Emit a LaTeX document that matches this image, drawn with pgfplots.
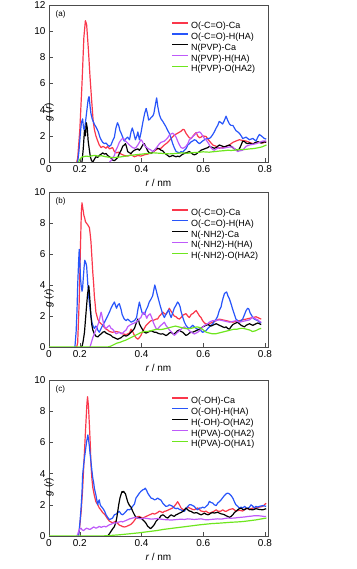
\documentclass[border=0pt]{standalone}
\usepackage{pgfplots}
\pgfplotsset{compat=1.18}
\usepackage{fontspec}
\setmainfont{Liberation Sans}
\definecolor{cred}{RGB}{250,55,75}
\definecolor{cblue}{RGB}{40,85,250}
\definecolor{cmag}{RGB}{190,90,250}
\definecolor{cgreen}{RGB}{110,230,30}
\pgfplotsset{
  gpanel/.style={
    scale only axis, width=219pt, anchor=south west,
    xmin=0.1, xmax=0.81, ymin=0,
    xtick={0.1,0.2,0.4,0.6,0.8}, xticklabels={0,0.2,0.4,0.6,0.8},
    /pgf/number format/assume math mode=true,
    tick label style={font=\fontsize{10}{12}\selectfont},
    label style={font=\fontsize{10}{12}\selectfont},
    axis line style={black!70, line width=0.8pt},
    tick style={black!70},
    tick pos=left,
    xlabel={\itshape r\upshape\ / nm},
    ylabel={\itshape g\upshape\ (\itshape r\upshape)},
    xlabel style={at={(rel axis cs:0.5,0)}, yshift=-21pt, anchor=center},
    ylabel style={at={(rel axis cs:0,0.5)}, xshift=-29pt, anchor=center},
    legend style={at={(rel axis cs:0.56,0.905)}, anchor=north west, draw=none, fill=none,
      font=\fontsize{9}{10.5}\selectfont, row sep=-1.2pt, inner sep=0pt},
    legend cell align=left,
    legend image code/.code={\draw[##1, line width=1.3pt] (0pt,3pt) -- (16pt,3pt);},
    every axis plot/.append style={line width=1.2pt, line join=round},
  }
}
\begin{document}
\begin{tikzpicture}
\useasboundingbox (0,0) rectangle (356pt,569pt);
% ---------------- (a)
\begin{axis}[gpanel, at={(49pt,407pt)}, height=157pt, ymax=12, ytick={0,2,4,6,8,10,12}]
\addplot[cred] coordinates {(0.190,0) (0.193,0.3) (0.200,2.5) (0.207,6.0) (0.213,9.5) (0.218,10.8) (0.222,10.5) (0.228,8.5) (0.233,6.5) (0.238,4.8) (0.243,3.2) (0.247,2.5) (0.252,2.0) (0.258,1.6) (0.263,1.3) (0.269,1.1) (0.275,1.2) (0.285,1.05) (0.290,1.2) (0.296,1.0) (0.306,1.1) (0.312,0.8) (0.319,0.7) (0.325,0.75) (0.334,0.6) (0.344,0.5) (0.355,0.45) (0.366,0.55) (0.377,0.4) (0.388,0.5) (0.398,0.45) (0.409,0.55) (0.420,0.6) (0.431,0.7) (0.442,0.85) (0.452,1.0) (0.463,1.05) (0.474,1.3) (0.485,1.5) (0.496,1.8) (0.506,2.05) (0.517,2.2) (0.528,2.35) (0.534,2.5) (0.539,2.45) (0.544,2.2) (0.550,2.0) (0.555,1.85) (0.561,1.8) (0.566,1.95) (0.571,2.1) (0.577,2.25) (0.582,2.0) (0.588,1.85) (0.593,1.9) (0.598,2.0) (0.609,1.95) (0.620,1.6) (0.631,1.3) (0.642,1.2) (0.652,1.05) (0.663,1.1) (0.674,1.2) (0.685,1.3) (0.696,1.5) (0.706,1.6) (0.717,1.7) (0.728,1.65) (0.739,1.6) (0.750,1.5) (0.761,1.4) (0.771,1.45) (0.782,1.5) (0.793,1.45) (0.804,1.55)};
\addlegendentry{O(-C=O)-Ca}
\addplot[cblue] coordinates {(0.193,0) (0.197,0.8) (0.201,2.0) (0.205,3.0) (0.209,3.3) (0.212,2.6) (0.215,2.4) (0.219,3.2) (0.223,4.0) (0.227,4.8) (0.230,5.0) (0.233,4.3) (0.236,3.7) (0.240,3.3) (0.245,3.0) (0.249,2.8) (0.252,2.7) (0.256,2.5) (0.260,2.3) (0.265,1.9) (0.269,1.7) (0.274,1.5) (0.280,1.4) (0.285,1.45) (0.290,1.3) (0.296,1.2) (0.301,1.3) (0.306,1.6) (0.312,1.9) (0.317,2.6) (0.322,3.0) (0.326,2.8) (0.330,2.4) (0.334,2.2) (0.339,1.9) (0.344,1.6) (0.350,1.8) (0.355,1.9) (0.361,1.7) (0.366,2.3) (0.370,2.6) (0.375,2.2) (0.380,1.7) (0.385,2.0) (0.388,2.3) (0.393,1.7) (0.398,2.2) (0.404,3.0) (0.410,3.7) (0.415,4.1) (0.420,3.6) (0.423,3.2) (0.428,3.3) (0.431,3.4) (0.436,3.5) (0.440,3.7) (0.445,4.4) (0.449,4.9) (0.453,4.2) (0.458,3.6) (0.463,3.3) (0.469,3.1) (0.474,2.9) (0.479,2.7) (0.485,2.4) (0.490,2.2) (0.496,1.8) (0.501,1.4) (0.506,1.1) (0.512,0.8) (0.517,0.75) (0.523,0.7) (0.528,0.8) (0.534,0.75) (0.539,0.9) (0.544,1.0) (0.550,1.3) (0.555,1.4) (0.561,1.55) (0.566,1.6) (0.571,1.7) (0.577,1.65) (0.582,1.5) (0.588,1.4) (0.593,1.5) (0.598,1.6) (0.604,1.7) (0.609,1.75) (0.615,1.8) (0.620,1.8) (0.625,1.9) (0.631,2.1) (0.636,2.3) (0.642,2.6) (0.647,2.8) (0.652,3.1) (0.658,3.0) (0.663,2.9) (0.669,3.2) (0.674,3.5) (0.679,3.2) (0.685,2.9) (0.690,2.8) (0.696,2.8) (0.701,2.6) (0.706,2.4) (0.712,2.3) (0.717,2.2) (0.723,2.0) (0.728,1.8) (0.734,1.85) (0.739,1.9) (0.744,1.8) (0.750,1.7) (0.755,1.75) (0.761,1.8) (0.766,1.7) (0.771,1.6) (0.777,1.9) (0.782,2.1) (0.788,2.0) (0.793,1.9) (0.798,1.8) (0.804,1.75)};
\addlegendentry{O(-C=O)-H(HA)}
\addplot[black] coordinates {(0.207,0) (0.211,1.0) (0.215,2.4) (0.218,2.0) (0.221,3.0) (0.224,2.6) (0.227,1.6) (0.231,0.9) (0.234,0.4) (0.238,0.1) (0.242,0.0) (0.247,0.2) (0.252,0.4) (0.258,0.35) (0.263,0.5) (0.269,0.6) (0.274,0.7) (0.280,0.6) (0.285,0.65) (0.290,0.5) (0.296,0.4) (0.301,0.3) (0.306,0.15) (0.312,0.1) (0.317,0.2) (0.323,0.35) (0.328,0.65) (0.334,0.9) (0.339,1.2) (0.344,1.3) (0.348,1.4) (0.352,1.1) (0.355,0.8) (0.361,0.7) (0.366,0.65) (0.371,0.8) (0.377,0.9) (0.382,0.95) (0.388,1.0) (0.393,0.9) (0.398,1.05) (0.404,1.3) (0.409,1.4) (0.415,1.1) (0.420,0.85) (0.425,0.7) (0.431,0.65) (0.436,0.75) (0.442,0.9) (0.447,1.0) (0.452,1.05) (0.458,1.0) (0.463,0.9) (0.469,0.85) (0.474,0.7) (0.479,0.6) (0.485,0.5) (0.490,0.4) (0.496,0.45) (0.501,0.5) (0.506,0.45) (0.512,0.4) (0.517,0.45) (0.523,0.4) (0.528,0.5) (0.534,0.6) (0.539,0.65) (0.544,0.7) (0.550,0.75) (0.555,0.8) (0.561,0.7) (0.566,0.6) (0.571,0.55) (0.577,0.6) (0.582,0.7) (0.588,0.8) (0.593,0.9) (0.598,0.95) (0.604,1.0) (0.609,1.05) (0.615,1.1) (0.620,1.2) (0.625,1.15) (0.631,1.1) (0.636,1.05) (0.642,1.1) (0.647,1.2) (0.652,1.3) (0.658,1.25) (0.663,1.2) (0.669,1.15) (0.674,1.2) (0.679,1.25) (0.685,1.3) (0.690,1.2) (0.696,1.1) (0.701,1.0) (0.706,0.95) (0.712,0.9) (0.717,1.0) (0.723,1.3) (0.728,1.6) (0.734,1.55) (0.739,1.45) (0.744,1.4) (0.750,1.45) (0.755,1.4) (0.761,1.35) (0.766,1.45) (0.771,1.5) (0.777,1.55) (0.782,1.5) (0.788,1.45) (0.793,1.5) (0.798,1.55) (0.804,1.5)};
\addlegendentry{N(PVP)-Ca}
\addplot[cmag] coordinates {(0.296,0) (0.301,0.1) (0.306,0.3) (0.312,0.5) (0.317,0.9) (0.323,1.2) (0.328,1.5) (0.334,1.7) (0.339,1.8) (0.344,1.75) (0.348,1.6) (0.355,1.45) (0.361,1.3) (0.366,1.2) (0.371,1.1) (0.377,1.05) (0.382,1.1) (0.388,1.3) (0.393,1.5) (0.398,1.7) (0.402,1.6) (0.406,1.4) (0.412,1.2) (0.417,1.1) (0.423,1.0) (0.428,0.95) (0.434,0.85) (0.438,0.8) (0.442,0.9) (0.447,1.05) (0.452,1.2) (0.458,1.4) (0.463,1.5) (0.469,1.55) (0.474,1.6) (0.479,1.7) (0.485,1.85) (0.490,2.05) (0.496,2.15) (0.501,2.2) (0.506,2.1) (0.512,1.9) (0.517,1.6) (0.523,1.3) (0.528,1.1) (0.534,1.05) (0.539,1.1) (0.544,1.2) (0.550,1.4) (0.555,1.7) (0.561,1.8) (0.566,1.95) (0.571,2.05) (0.577,2.2) (0.582,2.25) (0.588,2.3) (0.593,2.2) (0.598,2.0) (0.604,1.8) (0.609,1.7) (0.615,1.5) (0.620,1.3) (0.625,1.1) (0.631,0.95) (0.636,0.9) (0.642,1.0) (0.652,1.1) (0.663,1.05) (0.674,1.1) (0.685,1.15) (0.696,1.15) (0.706,0.9) (0.712,0.8) (0.717,0.85) (0.728,0.9) (0.739,1.2) (0.750,1.3) (0.761,1.35) (0.771,1.4) (0.782,1.5) (0.793,1.6) (0.804,1.6)};
\addlegendentry{N(PVP)-H(HA)}
\addplot[cgreen] coordinates {(0.196,0) (0.200,0.2) (0.205,0.35) (0.210,0.4) (0.220,0.45) (0.230,0.42) (0.240,0.48) (0.250,0.5) (0.260,0.45) (0.270,0.48) (0.280,0.42) (0.290,0.38) (0.300,0.35) (0.310,0.33) (0.320,0.36) (0.330,0.38) (0.340,0.42) (0.350,0.45) (0.360,0.5) (0.370,0.52) (0.380,0.55) (0.390,0.58) (0.400,0.6) (0.410,0.63) (0.420,0.65) (0.430,0.68) (0.440,0.7) (0.450,0.68) (0.460,0.67) (0.470,0.65) (0.480,0.63) (0.490,0.62) (0.500,0.63) (0.510,0.65) (0.520,0.67) (0.530,0.7) (0.540,0.68) (0.550,0.67) (0.560,0.7) (0.570,0.72) (0.580,0.73) (0.590,0.75) (0.600,0.78) (0.610,0.76) (0.620,0.75) (0.630,0.78) (0.640,0.8) (0.650,0.83) (0.660,0.85) (0.670,0.87) (0.680,0.9) (0.690,0.88) (0.700,0.9) (0.710,0.93) (0.720,0.95) (0.730,0.95) (0.740,0.97) (0.750,1.0) (0.760,1.02) (0.770,1.05) (0.780,1.1) (0.790,1.15) (0.800,1.25) (0.805,1.3)};
\addlegendentry{H(PVP)-O(HA2)}
\node[anchor=north west, font=\fontsize{8}{9}\selectfont, inner sep=1pt] at (rel axis cs:0.025,0.97) {(a)};
\end{axis}
% ---------------- (b)
\begin{axis}[gpanel, at={(49pt,222pt)}, height=155pt, ymax=10, ytick={0,2,4,6,8,10}]
\addplot[cred] coordinates {(0.190,0) (0.193,0.3) (0.198,3.0) (0.202,6.5) (0.205,8.8) (0.207,9.3) (0.210,8.9) (0.213,8.5) (0.216,8.3) (0.218,8.1) (0.221,8.0) (0.225,7.9) (0.228,7.8) (0.231,7.7) (0.234,7.2) (0.236,6.8) (0.239,5.8) (0.242,4.8) (0.245,4.0) (0.247,3.3) (0.250,2.7) (0.252,2.25) (0.258,1.8) (0.263,1.6) (0.269,1.5) (0.274,1.4) (0.280,1.25) (0.285,1.15) (0.290,1.1) (0.296,1.0) (0.306,0.95) (0.317,1.0) (0.328,0.95) (0.339,0.85) (0.350,0.8) (0.361,0.9) (0.366,1.15) (0.371,1.0) (0.377,0.75) (0.382,0.6) (0.388,0.5) (0.393,0.6) (0.398,0.75) (0.404,1.0) (0.409,1.2) (0.415,1.4) (0.420,1.5) (0.425,1.6) (0.431,1.7) (0.436,1.7) (0.442,1.75) (0.447,1.8) (0.452,1.8) (0.458,2.0) (0.463,2.1) (0.469,2.25) (0.474,2.15) (0.479,2.1) (0.485,2.3) (0.490,2.5) (0.496,2.3) (0.501,2.15) (0.506,2.0) (0.512,1.95) (0.517,1.85) (0.523,1.8) (0.528,1.9) (0.534,2.05) (0.539,2.1) (0.544,2.15) (0.550,2.0) (0.555,1.9) (0.561,2.1) (0.566,2.15) (0.571,2.25) (0.577,2.35) (0.582,2.2) (0.588,2.0) (0.593,1.9) (0.598,1.7) (0.604,1.55) (0.609,1.5) (0.615,1.45) (0.620,1.5) (0.625,1.55) (0.631,1.6) (0.636,1.65) (0.642,1.7) (0.652,1.8) (0.663,1.75) (0.674,1.7) (0.685,1.65) (0.696,1.6) (0.706,1.65) (0.717,1.7) (0.728,1.75) (0.739,1.8) (0.750,1.85) (0.761,1.9) (0.771,1.95) (0.777,1.9) (0.782,1.85) (0.788,1.8)};
\addlegendentry{O(-C=O)-Ca}
\addplot[cblue] coordinates {(0.184,0) (0.188,1.0) (0.191,2.5) (0.193,4.0) (0.196,5.5) (0.198,6.3) (0.200,5.5) (0.202,4.5) (0.204,4.0) (0.207,3.6) (0.209,3.8) (0.211,4.4) (0.214,5.2) (0.216,5.6) (0.218,5.5) (0.220,5.4) (0.222,5.2) (0.224,4.6) (0.226,4.0) (0.229,3.2) (0.233,2.5) (0.236,2.0) (0.239,1.6) (0.242,1.4) (0.247,1.2) (0.252,1.35) (0.255,1.3) (0.258,1.1) (0.263,0.95) (0.269,1.2) (0.274,1.4) (0.280,1.6) (0.285,1.8) (0.290,2.0) (0.296,2.25) (0.301,2.5) (0.306,2.7) (0.312,2.9) (0.317,2.6) (0.319,2.5) (0.323,2.7) (0.328,2.8) (0.334,2.4) (0.337,2.1) (0.344,1.8) (0.350,1.7) (0.355,1.8) (0.361,1.7) (0.366,1.6) (0.371,1.65) (0.377,1.7) (0.384,1.9) (0.388,2.4) (0.393,2.9) (0.398,2.5) (0.402,2.2) (0.410,2.1) (0.415,2.4) (0.420,2.6) (0.425,2.9) (0.431,3.1) (0.436,3.3) (0.440,3.7) (0.443,4.0) (0.447,3.7) (0.452,3.3) (0.456,3.0) (0.460,2.7) (0.463,2.5) (0.469,2.1) (0.474,1.9) (0.479,2.1) (0.485,2.3) (0.488,2.4) (0.492,2.1) (0.496,1.9) (0.501,2.2) (0.506,2.5) (0.512,2.7) (0.517,2.9) (0.521,2.8) (0.525,2.6) (0.528,2.3) (0.534,1.9) (0.539,1.6) (0.544,1.4) (0.550,1.25) (0.555,1.2) (0.561,1.3) (0.566,1.4) (0.571,1.3) (0.577,1.2) (0.582,1.15) (0.588,1.1) (0.593,1.05) (0.598,0.95) (0.604,1.0) (0.609,1.05) (0.615,1.2) (0.620,1.3) (0.625,1.4) (0.631,1.5) (0.636,1.65) (0.642,1.8) (0.647,2.0) (0.652,2.35) (0.658,2.6) (0.661,2.9) (0.665,3.2) (0.669,3.45) (0.672,3.5) (0.676,3.55) (0.680,3.3) (0.685,3.1) (0.690,2.8) (0.696,2.4) (0.701,2.1) (0.706,1.8) (0.712,1.7) (0.717,1.6) (0.723,1.7) (0.728,1.8) (0.734,2.1) (0.739,2.35) (0.744,2.5) (0.748,2.45) (0.752,2.2) (0.755,2.1) (0.761,1.9) (0.766,1.8) (0.771,1.75) (0.777,1.7) (0.782,1.6) (0.788,1.55)};
\addlegendentry{O(-C=O)-H(HA)}
\addplot[black] coordinates {(0.205,0) (0.208,0.1) (0.211,0.4) (0.215,0.95) (0.218,1.7) (0.222,2.7) (0.225,3.4) (0.229,3.95) (0.231,3.5) (0.233,2.9) (0.236,2.0) (0.239,1.4) (0.242,1.1) (0.247,0.85) (0.252,0.7) (0.258,0.65) (0.263,0.75) (0.269,0.85) (0.274,0.95) (0.280,1.0) (0.285,0.9) (0.290,0.85) (0.296,0.8) (0.301,0.75) (0.306,0.65) (0.312,0.6) (0.317,0.55) (0.323,0.5) (0.328,0.55) (0.334,0.6) (0.339,0.7) (0.344,0.75) (0.350,0.7) (0.355,0.75) (0.361,0.85) (0.366,0.95) (0.371,1.05) (0.377,1.2) (0.382,1.5) (0.388,1.8) (0.391,1.7) (0.393,1.5) (0.398,1.3) (0.404,1.1) (0.409,0.95) (0.415,0.9) (0.420,0.95) (0.425,1.0) (0.431,1.05) (0.436,1.0) (0.442,0.95) (0.447,0.95) (0.452,0.9) (0.458,0.85) (0.463,0.84) (0.469,0.85) (0.474,0.8) (0.479,0.74) (0.485,0.8) (0.490,0.9) (0.496,0.95) (0.501,0.85) (0.506,0.84) (0.512,0.95) (0.517,1.05) (0.523,1.1) (0.528,1.0) (0.534,0.95) (0.539,0.85) (0.544,0.75) (0.550,0.8) (0.555,0.9) (0.561,0.95) (0.566,0.95) (0.571,1.0) (0.577,1.05) (0.582,1.1) (0.588,1.15) (0.593,1.2) (0.598,1.3) (0.604,1.35) (0.609,1.4) (0.615,1.45) (0.620,1.4) (0.625,1.35) (0.631,1.4) (0.636,1.45) (0.642,1.5) (0.647,1.45) (0.652,1.4) (0.658,1.35) (0.663,1.3) (0.669,1.25) (0.674,1.3) (0.679,1.2) (0.685,1.15) (0.690,1.3) (0.696,1.45) (0.701,1.5) (0.706,1.55) (0.712,1.6) (0.717,1.5) (0.723,1.4) (0.728,1.35) (0.734,1.3) (0.739,1.4) (0.744,1.45) (0.750,1.5) (0.755,1.45) (0.761,1.4) (0.766,1.45) (0.771,1.5) (0.777,1.55) (0.782,1.5) (0.788,1.45)};
\addlegendentry{N(-NH2)-Ca}
\addplot[cmag] coordinates {(0.233,0) (0.236,0.2) (0.242,0.6) (0.247,0.85) (0.252,1.1) (0.258,1.4) (0.263,1.7) (0.266,2.0) (0.269,2.25) (0.272,2.0) (0.276,1.6) (0.280,1.3) (0.285,1.2) (0.290,1.3) (0.296,1.4) (0.301,1.2) (0.306,1.15) (0.312,1.0) (0.317,0.85) (0.323,0.9) (0.328,0.95) (0.334,0.85) (0.339,0.9) (0.344,1.0) (0.350,1.1) (0.355,1.3) (0.361,1.4) (0.366,1.45) (0.371,1.5) (0.377,1.55) (0.382,1.6) (0.388,1.7) (0.393,1.82) (0.398,1.9) (0.402,2.1) (0.406,2.2) (0.409,2.25) (0.412,2.1) (0.417,1.85) (0.420,2.0) (0.425,2.1) (0.428,2.14) (0.431,2.0) (0.434,1.85) (0.438,1.6) (0.442,1.4) (0.447,1.2) (0.452,1.15) (0.458,1.3) (0.463,1.4) (0.469,1.5) (0.474,1.6) (0.479,1.4) (0.485,1.25) (0.490,1.1) (0.496,1.0) (0.501,0.9) (0.506,0.75) (0.512,0.85) (0.517,0.95) (0.523,1.05) (0.528,1.15) (0.534,1.25) (0.539,1.3) (0.544,1.2) (0.550,1.17) (0.555,1.05) (0.561,0.95) (0.566,0.9) (0.571,0.84) (0.577,0.9) (0.582,0.95) (0.588,1.05) (0.593,1.17) (0.598,1.28) (0.604,1.39) (0.609,1.45) (0.615,1.5) (0.620,1.6) (0.625,1.65) (0.631,1.7) (0.642,1.71) (0.652,1.75) (0.663,1.7) (0.674,1.65) (0.685,1.6) (0.696,1.65) (0.706,1.7) (0.717,1.6) (0.728,1.65) (0.739,1.7) (0.750,1.75) (0.761,1.93) (0.766,1.85) (0.771,1.8) (0.777,1.75) (0.782,1.65) (0.788,1.6)};
\addlegendentry{N(-NH2)-H(HA)}
\addplot[cgreen] coordinates {(0.100,0) (0.290,0) (0.300,0.05) (0.310,0.15) (0.320,0.25) (0.330,0.3) (0.340,0.38) (0.350,0.45) (0.360,0.55) (0.370,0.65) (0.380,0.75) (0.390,0.85) (0.400,0.95) (0.410,1.0) (0.420,1.0) (0.430,1.05) (0.440,1.1) (0.450,1.15) (0.460,1.12) (0.470,1.15) (0.480,1.2) (0.490,1.25) (0.500,1.3) (0.510,1.35) (0.520,1.3) (0.530,1.25) (0.540,1.2) (0.550,1.18) (0.560,1.2) (0.570,1.25) (0.580,1.3) (0.590,1.25) (0.600,1.1) (0.610,0.95) (0.620,0.9) (0.630,0.85) (0.640,0.85) (0.650,0.9) (0.660,0.95) (0.670,1.0) (0.680,1.05) (0.690,1.1) (0.700,1.15) (0.710,1.15) (0.720,1.2) (0.730,1.2) (0.740,1.15) (0.750,1.1) (0.760,1.0) (0.770,1.05) (0.780,1.15) (0.788,1.2)};
\addlegendentry{H(-NH2)-O(HA2)}
\node[anchor=north west, font=\fontsize{8}{9}\selectfont, inner sep=1pt] at (rel axis cs:0.025,0.97) {(b)};
\end{axis}
% ---------------- (c)
\begin{axis}[gpanel, at={(49pt,33pt)}, height=156pt, ymax=10, ytick={0,2,4,6,8,10}]
\addplot[cred] coordinates {(0.195,0) (0.198,0.3) (0.204,1.5) (0.209,3.0) (0.214,5.0) (0.219,7.0) (0.223,8.5) (0.225,8.93) (0.228,8.3) (0.231,7.1) (0.234,5.8) (0.236,4.6) (0.239,3.7) (0.242,3.1) (0.247,2.6) (0.252,2.2) (0.258,2.0) (0.263,1.8) (0.269,1.65) (0.274,1.5) (0.280,1.4) (0.285,1.25) (0.290,1.1) (0.296,0.95) (0.301,0.9) (0.306,0.85) (0.312,0.9) (0.317,0.95) (0.323,0.8) (0.328,0.7) (0.334,0.65) (0.339,0.6) (0.344,0.58) (0.350,0.6) (0.355,0.65) (0.361,0.7) (0.366,0.75) (0.371,0.85) (0.377,1.0) (0.382,1.15) (0.388,1.25) (0.393,1.25) (0.398,1.2) (0.404,1.15) (0.409,1.2) (0.415,1.26) (0.420,1.3) (0.425,1.35) (0.431,1.4) (0.436,1.45) (0.442,1.4) (0.447,1.45) (0.452,1.5) (0.458,1.6) (0.463,1.55) (0.469,1.5) (0.474,1.58) (0.479,1.6) (0.485,1.65) (0.490,1.7) (0.496,1.75) (0.501,1.8) (0.506,1.9) (0.512,2.05) (0.517,2.2) (0.523,2.0) (0.528,1.8) (0.534,1.7) (0.539,1.68) (0.544,1.75) (0.550,1.85) (0.555,1.8) (0.561,1.75) (0.566,1.7) (0.571,1.68) (0.577,1.75) (0.582,1.8) (0.588,1.7) (0.593,1.6) (0.598,1.58) (0.604,1.55) (0.609,1.6) (0.615,1.5) (0.620,1.47) (0.625,1.5) (0.631,1.55) (0.636,1.6) (0.642,1.68) (0.647,1.6) (0.652,1.58) (0.658,1.6) (0.663,1.68) (0.669,1.6) (0.674,1.58) (0.685,1.7) (0.696,1.75) (0.706,1.6) (0.717,1.65) (0.728,1.6) (0.739,1.79) (0.750,1.7) (0.761,1.8) (0.771,1.8) (0.782,1.85) (0.793,1.9) (0.804,2.1)};
\addlegendentry{O(-OH)-Ca}
\addplot[cblue] coordinates {(0.196,0) (0.200,0.8) (0.204,1.8) (0.207,2.8) (0.209,3.9) (0.212,4.5) (0.215,5.0) (0.219,5.6) (0.222,6.05) (0.226,6.48) (0.228,6.2) (0.231,5.74) (0.233,5.3) (0.236,4.78) (0.239,4.2) (0.242,3.71) (0.245,3.4) (0.247,3.07) (0.250,2.8) (0.252,2.64) (0.255,2.3) (0.258,2.0) (0.260,2.2) (0.263,2.32) (0.266,2.0) (0.269,1.9) (0.274,1.79) (0.280,1.6) (0.285,1.36) (0.290,1.2) (0.296,1.04) (0.301,1.1) (0.306,1.15) (0.312,1.36) (0.317,1.4) (0.323,1.5) (0.328,1.58) (0.334,1.4) (0.339,1.36) (0.344,1.45) (0.350,1.58) (0.355,1.7) (0.361,1.68) (0.366,1.75) (0.371,1.9) (0.377,2.05) (0.382,2.43) (0.388,2.6) (0.393,2.75) (0.398,2.86) (0.404,2.96) (0.409,3.0) (0.412,3.07) (0.417,2.9) (0.420,2.75) (0.425,2.6) (0.431,2.43) (0.436,2.4) (0.442,2.32) (0.447,2.35) (0.452,2.43) (0.458,2.35) (0.463,2.3) (0.469,2.1) (0.474,2.0) (0.479,1.9) (0.485,1.92) (0.490,2.0) (0.496,1.95) (0.501,1.9) (0.506,1.8) (0.512,1.75) (0.517,1.79) (0.523,1.7) (0.528,1.68) (0.534,1.6) (0.539,1.58) (0.544,1.75) (0.550,1.9) (0.555,2.0) (0.561,2.0) (0.566,1.95) (0.571,1.9) (0.577,1.75) (0.582,1.68) (0.588,1.79) (0.593,1.79) (0.598,1.85) (0.604,1.8) (0.609,1.9) (0.615,2.0) (0.620,2.22) (0.625,2.15) (0.631,2.11) (0.636,2.0) (0.642,1.95) (0.647,2.11) (0.652,2.2) (0.658,2.32) (0.663,2.45) (0.669,2.6) (0.674,2.7) (0.679,2.75) (0.685,2.7) (0.690,2.6) (0.696,2.43) (0.701,2.2) (0.706,2.0) (0.712,1.9) (0.717,1.79) (0.723,1.85) (0.728,1.79) (0.734,1.9) (0.739,1.8) (0.744,1.75) (0.750,1.85) (0.755,2.0) (0.761,1.9) (0.766,1.8) (0.771,1.9) (0.777,1.85) (0.782,1.9) (0.793,1.95) (0.804,1.9)};
\addlegendentry{O(-OH)-H(HA)}
\addplot[black] coordinates {(0.290,0) (0.296,0.15) (0.301,0.3) (0.306,0.45) (0.312,0.6) (0.317,0.9) (0.320,1.2) (0.323,1.6) (0.326,2.0) (0.330,2.43) (0.334,2.7) (0.337,2.86) (0.339,2.8) (0.342,2.86) (0.344,2.8) (0.348,2.7) (0.350,2.55) (0.355,2.2) (0.361,1.95) (0.366,1.85) (0.371,1.6) (0.377,1.36) (0.382,1.2) (0.388,1.15) (0.393,1.2) (0.398,1.15) (0.404,1.04) (0.409,0.95) (0.415,0.8) (0.420,0.62) (0.425,0.55) (0.428,0.48) (0.431,0.5) (0.436,0.6) (0.442,0.75) (0.447,0.94) (0.452,1.05) (0.458,1.15) (0.463,1.3) (0.469,1.36) (0.474,1.3) (0.479,1.2) (0.485,1.15) (0.490,1.26) (0.496,1.36) (0.501,1.3) (0.506,1.26) (0.512,1.36) (0.517,1.4) (0.523,1.47) (0.528,1.5) (0.534,1.58) (0.539,1.68) (0.544,1.79) (0.550,1.68) (0.555,1.6) (0.561,1.58) (0.566,1.5) (0.571,1.47) (0.577,1.5) (0.582,1.47) (0.588,1.4) (0.593,1.36) (0.598,1.4) (0.604,1.47) (0.609,1.4) (0.615,1.36) (0.620,1.4) (0.625,1.47) (0.631,1.5) (0.636,1.47) (0.642,1.5) (0.647,1.52) (0.652,1.47) (0.658,1.42) (0.663,1.4) (0.669,1.36) (0.674,1.3) (0.679,1.26) (0.685,1.2) (0.690,1.25) (0.696,1.36) (0.701,1.5) (0.706,1.58) (0.712,1.68) (0.717,1.75) (0.723,1.79) (0.728,1.7) (0.734,1.68) (0.739,1.75) (0.744,1.79) (0.750,1.7) (0.761,1.68) (0.771,1.75) (0.782,1.7) (0.793,1.68) (0.804,1.75)};
\addlegendentry{H(-OH)-O(HA2)}
\addplot[cmag] coordinates {(0.190,0) (0.193,0.1) (0.196,0.3) (0.200,0.45) (0.204,0.5) (0.207,0.4) (0.212,0.35) (0.218,0.45) (0.222,0.5) (0.228,0.45) (0.233,0.42) (0.239,0.5) (0.245,0.58) (0.252,0.5) (0.258,0.55) (0.263,0.62) (0.269,0.55) (0.274,0.6) (0.280,0.62) (0.285,0.58) (0.290,0.65) (0.296,0.72) (0.301,0.75) (0.306,0.8) (0.312,0.85) (0.317,0.83) (0.323,0.88) (0.328,0.9) (0.334,0.94) (0.339,0.9) (0.344,0.95) (0.350,1.0) (0.355,1.04) (0.361,1.1) (0.366,1.12) (0.371,1.15) (0.377,1.18) (0.382,1.2) (0.388,1.15) (0.393,1.12) (0.398,1.1) (0.409,1.15) (0.420,1.12) (0.431,1.08) (0.442,1.1) (0.452,1.12) (0.463,1.08) (0.474,1.05) (0.485,1.04) (0.496,1.02) (0.506,1.04) (0.517,1.06) (0.528,1.08) (0.539,1.06) (0.550,1.1) (0.561,1.08) (0.571,1.06) (0.582,1.08) (0.593,1.1) (0.604,1.05) (0.615,1.04) (0.625,1.06) (0.636,1.08) (0.647,1.1) (0.658,1.08) (0.669,1.12) (0.679,1.15) (0.690,1.14) (0.701,1.15) (0.712,1.18) (0.723,1.2) (0.734,1.22) (0.744,1.25) (0.755,1.27) (0.766,1.3) (0.777,1.3) (0.788,1.28) (0.798,1.25) (0.804,1.26)};
\addlegendentry{H(PVA)-O(HA2)}
\addplot[cgreen] coordinates {(0.100,0) (0.270,0) (0.290,0.02) (0.310,0.05) (0.330,0.08) (0.350,0.12) (0.370,0.16) (0.390,0.2) (0.410,0.25) (0.430,0.3) (0.450,0.35) (0.470,0.42) (0.490,0.47) (0.510,0.52) (0.530,0.57) (0.550,0.62) (0.570,0.67) (0.590,0.72) (0.610,0.76) (0.630,0.8) (0.650,0.82) (0.670,0.85) (0.690,0.88) (0.710,0.9) (0.730,0.93) (0.750,0.98) (0.770,1.03) (0.790,1.1) (0.805,1.15)};
\addlegendentry{H(PVA)-O(HA1)}
\node[anchor=north west, font=\fontsize{8}{9}\selectfont, inner sep=1pt] at (rel axis cs:0.025,0.97) {(c)};
\end{axis}
\end{tikzpicture}
\end{document}
